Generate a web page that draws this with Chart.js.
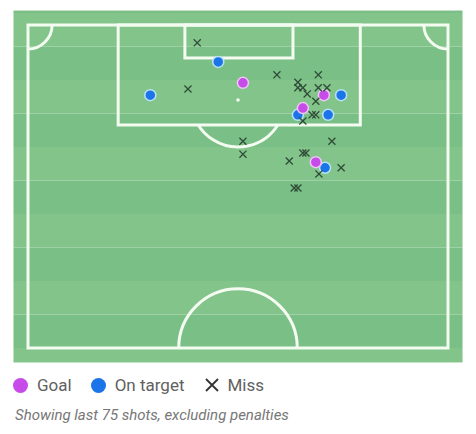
<!DOCTYPE html>
<html>
<head>
<meta charset="utf-8">
<script src="https://cdn.jsdelivr.net/npm/chart.js@4/dist/chart.umd.min.js"></script>
<style>
  body { margin: 0; background: #fff; font-family: Roboto, "Noto Sans", sans-serif; }
  #wrap { position: relative; width: 476px; height: 370px; }
  #legend { position: absolute; left: 13px; top: 375px; display: flex; align-items: center; font-size: 17px; color: #616161; }
  #legend span.dot { display: inline-block; width: 15px; height: 15px; border-radius: 50%; margin-right: 9px; }
  #legend span.lbl { margin-right: 19px; }
  #legend svg { margin-right: 8px; }
  #caption { position: absolute; left: 15px; top: 406px; font-size: 15px; font-style: italic; color: #777; }
</style>
</head>
<body>
<div id="wrap"><canvas id="shotMap"></canvas></div>
<div id="legend">
  <span class="dot" style="background:#c64be8"></span><span class="lbl">Goal</span>
  <span class="dot" style="background:#1b74e8"></span><span class="lbl">On target</span>
  <svg width="16" height="16" viewBox="0 0 16 16"><path d="M2 2L14 14M14 2L2 14" stroke="#333" stroke-width="1.8"/></svg><span class="lbl">Miss</span>
</div>
<div id="caption">Showing last 75 shots, excluding penalties</div>
<script>
// shot positions in metres: x across the pitch (0-68), y distance from goal line (0-52.5)
const goalX = [34.8, 47.9, 44.5, 46.6];
const goalY = [9.4, 11.4, 13.5, 22.3];

const onTargetX = [30.8, 19.8, 50.7, 43.7, 48.6, 48.1];
const onTargetY = [6.0, 11.4, 11.4, 14.6, 14.6, 23.2];

const missX = [27.4, 25.9, 40.3, 47.0, 43.7, 43.7, 44.5, 45.2, 47.0, 48.4, 46.6, 46.0,
               46.6, 44.5, 34.8, 34.8, 49.2, 44.5, 45.0, 42.3, 50.7, 47.1, 43.1, 43.7];
const missY = [2.9, 10.4, 8.1, 8.1, 9.3, 10.2, 10.2, 11.2, 10.2, 10.2, 12.4, 14.6,
               14.6, 15.6, 18.9, 21.0, 18.9, 20.8, 20.8, 22.1, 23.2, 24.2, 26.5, 26.5];

// pitch geometry (metres)
const PITCH_W = 68, PITCH_L = 52.5, MARGIN = 2.35, STRIPE = 5.445;
const BOX = { x0: 14.6, x1: 53.8, depth: 16.25 };
const SIX = { x0: 25.4, x1: 42.9, depth: 5.36 };
const SPOT = { x: 34.0, y: 12.2 };
const ARC_R = 7.6, CORNER_R = 3.9, CENTER_R = 9.6;

const pts = (xs, ys) => xs.map((v, i) => ({ x: v, y: ys[i] }));

const pitchPlugin = {
    id: 'pitch',
    beforeDatasetsDraw(chart) {
        const { ctx, scales: { x, y } } = chart;
        const px = v => x.getPixelForValue(v), py = v => y.getPixelForValue(v);
        const mpx = v => px(v) - px(0);
        ctx.save();
        // grass stripes
        const left = px(-MARGIN), right = px(PITCH_W + MARGIN);
        for (let k = -1; PITCH_L - k * STRIPE > -MARGIN; k++) {
            const top = Math.max(PITCH_L - (k + 1) * STRIPE, -MARGIN);
            const bot = Math.min(PITCH_L - k * STRIPE, PITCH_L + MARGIN);
            ctx.fillStyle = k % 2 === 0 ? '#7ac086' : '#83c48b';
            ctx.fillRect(left, py(top), right - left, py(bot) - py(top));
        }
        // lines
        ctx.strokeStyle = '#f4fbf1';
        ctx.lineWidth = 3;
        ctx.strokeRect(px(0), py(0), px(PITCH_W) - px(0), py(PITCH_L) - py(0));
        ctx.strokeRect(px(BOX.x0), py(0), px(BOX.x1) - px(BOX.x0), py(BOX.depth) - py(0));
        ctx.strokeRect(px(SIX.x0), py(0), px(SIX.x1) - px(SIX.x0), py(SIX.depth) - py(0));
        // penalty arc
        const r = mpx(ARC_R), cx = px(SPOT.x), cy = py(SPOT.y);
        const a = Math.asin((py(BOX.depth) - cy) / r);
        ctx.beginPath(); ctx.arc(cx, cy, r, a, Math.PI - a); ctx.stroke();
        // corner arcs
        const cr = mpx(CORNER_R);
        ctx.beginPath(); ctx.arc(px(0), py(0), cr, 0, Math.PI / 2); ctx.stroke();
        ctx.beginPath(); ctx.arc(px(PITCH_W), py(0), cr, Math.PI / 2, Math.PI); ctx.stroke();
        // centre circle
        ctx.beginPath(); ctx.arc(px(PITCH_W / 2), py(PITCH_L), mpx(CENTER_R), Math.PI, 2 * Math.PI); ctx.stroke();
        // penalty spot
        ctx.fillStyle = '#f4fbf1';
        ctx.beginPath(); ctx.arc(cx, cy, 1.8, 0, 2 * Math.PI); ctx.fill();
        ctx.restore();
    }
};

new Chart(document.getElementById('shotMap'), {
    type: 'scatter',
    data: {
        datasets: [
            { label: 'Miss', data: pts(missX, missY), pointStyle: 'crossRot', radius: 5,
              borderColor: '#2f4c37', borderWidth: 1.3, order: 0 },
            { label: 'Goal', data: pts(goalX, goalY), pointStyle: 'circle', radius: 5.5,
              backgroundColor: '#c64be8', borderColor: '#efc6f5', borderWidth: 1.5, order: 1 },
            { label: 'On target', data: pts(onTargetX, onTargetY), pointStyle: 'circle', radius: 5.5,
              backgroundColor: '#1b74e8', borderColor: '#b8e2f6', borderWidth: 1.5, order: 2 }
        ]
    },
    options: {
        responsive: true, maintainAspectRatio: false, animation: false,
        layout: { padding: { left: 28, right: 28, top: 25, bottom: 22 } },
        scales: {
            x: { display: false, min: 0, max: PITCH_W },
            y: { display: false, min: 0, max: PITCH_L, reverse: true }
        },
        plugins: { legend: { display: false }, tooltip: { enabled: false } },
        elements: { point: { hoverRadius: 5.5 } }
    },
    plugins: [pitchPlugin]
});
</script>
</body>
</html>
